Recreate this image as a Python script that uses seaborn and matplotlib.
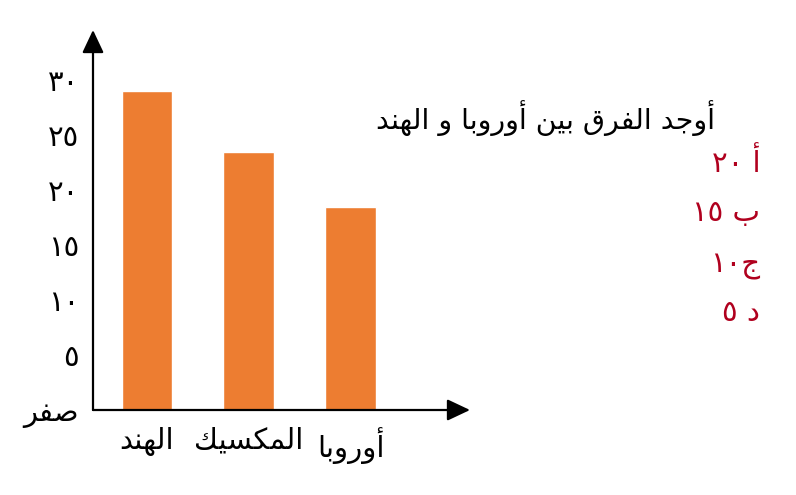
import re
import matplotlib
matplotlib.use("Agg")
import matplotlib.pyplot as plt
import seaborn as sns

# data
countries = ["الهند", "المكسيك", "أوروبا"]
values = [29, 23.5, 18.5]
y_ticks = [0, 5, 10, 15, 20, 25, 30]
y_tick_labels = ["صفر", "٥", "١٠", "١٥", "٢٠", "٢٥", "٣٠"]
question = "أوجد الفرق بين أوروبا و الهند"
choices = ["أ ٢٠", "ب ١٥", "ج١٠", "د ٥"]

# matplotlib does no Arabic shaping, so use presentation forms by hand
# (isolated, final, initial, medial)
FORMS = {
    'ا': ('\uFE8D', '\uFE8E', None, None),
    'أ': ('\uFE83', '\uFE84', None, None),
    'ب': ('\uFE8F', '\uFE90', '\uFE91', '\uFE92'),
    'ج': ('\uFE9D', '\uFE9E', '\uFE9F', '\uFEA0'),
    'د': ('\uFEA9', '\uFEAA', None, None),
    'ر': ('\uFEAD', '\uFEAE', None, None),
    'س': ('\uFEB1', '\uFEB2', '\uFEB3', '\uFEB4'),
    'ص': ('\uFEB9', '\uFEBA', '\uFEBB', '\uFEBC'),
    'ف': ('\uFED1', '\uFED2', '\uFED3', '\uFED4'),
    'ق': ('\uFED5', '\uFED6', '\uFED7', '\uFED8'),
    'ك': ('\uFED9', '\uFEDA', '\uFEDB', '\uFEDC'),
    'ل': ('\uFEDD', '\uFEDE', '\uFEDF', '\uFEE0'),
    'م': ('\uFEE1', '\uFEE2', '\uFEE3', '\uFEE4'),
    'ن': ('\uFEE5', '\uFEE6', '\uFEE7', '\uFEE8'),
    'ه': ('\uFEE9', '\uFEEA', '\uFEEB', '\uFEEC'),
    'و': ('\uFEED', '\uFEEE', None, None),
    'ي': ('\uFEF1', '\uFEF2', '\uFEF3', '\uFEF4'),
}


def ar(text):
    out = []
    for i, c in enumerate(text):
        if c not in FORMS:
            out.append(c)
            continue
        prev = text[i - 1] if i > 0 else ''
        nxt = text[i + 1] if i + 1 < len(text) else ''
        jp = prev in FORMS and FORMS[prev][2] is not None
        jn = FORMS[c][2] is not None and nxt in FORMS
        iso, fin, ini, med = FORMS[c]
        out.append(med if jp and jn else fin if jp else ini if jn else iso)
    vis = ''.join(out)[::-1]
    # digit runs stay left-to-right
    return re.sub(r'[٠-٩0-9]+', lambda m: m.group()[::-1], vis)


sns.set_style("white")
plt.rcParams['font.family'] = ['DejaVu Sans']

fig = plt.figure(figsize=(7.96, 4.95), dpi=100)
ax = fig.add_axes([93 / 796, 85 / 495, 377 / 796, 380 / 495])

sns.barplot(x=[ar(c) for c in countries], y=values, color='#ED7D31',
            saturation=1, width=0.5, ax=ax)

ax.set_xlim(-0.53, 3.17)
ax.set_ylim(0, 380 / 11)
ax.set_yticks(y_ticks)
ax.set_yticklabels([ar(t) for t in y_tick_labels])
ax.tick_params(length=0, labelsize=21, labelcolor='black')
ax.tick_params(axis='y', pad=10)
ax.tick_params(axis='x', pad=12)
ax.set_xlabel('')
ax.set_ylabel('')
for s in ax.spines.values():
    s.set_visible(False)

arrow = dict(arrowstyle='-|>,head_length=0.7,head_width=0.33', lw=1.6,
             color='black', mutation_scale=20, shrinkA=0, shrinkB=0)
ax.annotate('', xy=(0, 1), xytext=(0, 0), xycoords='axes fraction',
            arrowprops=arrow, annotation_clip=False)
ax.annotate('', xy=(1, 0), xytext=(0, 0), xycoords='axes fraction',
            arrowprops=arrow, annotation_clip=False)

fig.text(715 / 796, 1 - 118 / 495, ar(question), ha='right', va='center',
         fontsize=20.5, color='black')
for i, ch in enumerate(choices):
    fig.text(760 / 796, 1 - [163, 213, 266, 313][i] / 495, ar(ch),
             ha='right', va='center', fontsize=21, color='#B0001E')

fig.savefig('out.png', dpi=100)
